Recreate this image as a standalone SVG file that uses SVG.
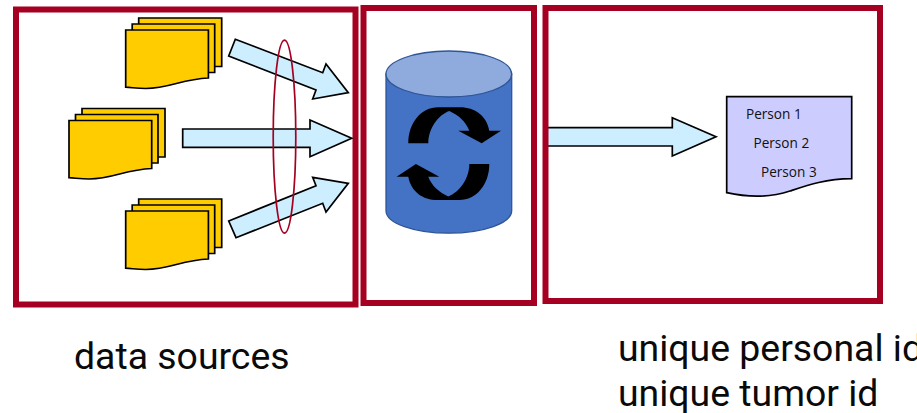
<svg xmlns="http://www.w3.org/2000/svg" xmlns:xlink="http://www.w3.org/1999/xlink" width="917" height="413" viewBox="0 0 917 413">
<style>
.box{fill:none;stroke:#a50021;stroke-width:6}
.doc{fill:#ffcc00;stroke:#000;stroke-width:1.700;stroke-linejoin:miter}
.arrow{fill:#cceeff;stroke:#000;stroke-width:1.700;stroke-linejoin:miter}
.big{font-family:Roboto,"Liberation Sans",sans-serif;font-size:37.400px;fill:#0a0a0a}
.small{font-family:"Open Sans","Liberation Sans",sans-serif;font-size:13.600px;fill:#111}
</style>
<defs>
<g id="stack">
<path class="doc" d="M13,-12H96V36.500H13Z"/>
<path class="doc" d="M6.500,-6H89V42.500H6.500Z"/>
<path class="doc" d="M0,0H82.700V48C56,49 44,58.500 20,58.500C12,58.500 6,57.500 0,57.200Z"/>
</g>
</defs>
<rect width="917" height="413" fill="#fff"/>
<g id="sources">
<rect class="box" x="16" y="9.500" width="339.500" height="295"/>
<use id="stack-top" xlink:href="#stack" href="#stack" x="125.700" y="30"/>
<use id="stack-middle" xlink:href="#stack" href="#stack" x="69" y="120.500"/>
<use id="stack-bottom" xlink:href="#stack" href="#stack" x="125.700" y="211"/>
</g>
<g id="connectors">
<polygon class="arrow" points="235.300,39.300 322.700,72.700 326,64 348.300,92.700 312.700,99 316,90 228.700,56"/>
<polygon class="arrow" points="182.700,129 310,129 310,120 351.700,138.300 310,156.700 310,147.300 182.700,147.300"/>
<polygon class="arrow" points="228.700,221 316,185.700 312.700,177.300 348.300,183.300 326,212 322.700,203.300 236,237.700"/>
<polygon class="arrow" points="547,127.700 672.300,127.700 672.300,117.700 716,136.700 672.300,156 672.300,146 547,146"/>
</g>
<g id="ring">
<ellipse cx="284.500" cy="136.700" rx="11.300" ry="96.500" fill="none" stroke="#a50021" stroke-width="1.700"/>
</g>
<g id="database">
<rect class="box" x="363.500" y="8" width="170.500" height="295"/>
<path d="M386,74V210.700A62.800,22.500 0 0 0 511.700,210.700V74Z" fill="#4472c4" stroke="#2f5597" stroke-width="1.300"/>
<ellipse cx="448.800" cy="74" rx="62.800" ry="23" fill="#8faadc" stroke="#2f5597" stroke-width="1.300"/>
<path id="sync-top" d="M408.300,143.300C408.300,123 421,107.300 438.300,107.300L460,107.300C475,107.300 486.700,116 489.300,130.700L501,130.700L481.700,143.300L458.300,130.700L469.300,130.700C466,121.700 458.300,115 449.300,111C438.300,115 428.300,128.300 428.300,143.300Z"/>
<path id="sync-bottom" transform="rotate(180 448.800 153.700)" d="M408.300,143.300C408.300,123 421,107.300 438.300,107.300L460,107.300C475,107.300 486.700,116 489.300,130.700L501,130.700L481.700,143.300L458.300,130.700L469.300,130.700C466,121.700 458.300,115 449.300,111C438.300,115 428.300,128.300 428.300,143.300Z"/>
</g>
<g id="output">
<rect class="box" x="545.500" y="8" width="334.500" height="293"/>
<path d="M726.700,96.700H851.700V178.700C825,179 808,185 790,191C775,196 755,199 726.700,192.700Z" fill="#ccccff" stroke="#000" stroke-width="1.700"/>
<text class="small" x="746" y="118.500">Person 1</text>
<text class="small" x="753.500" y="147.500">Person 2</text>
<text class="small" x="761" y="176.500">Person 3</text>
</g>
<g id="labels">
<text class="big" x="74" y="368.500">data sources</text>
<text class="big" x="618" y="361">unique personal id</text>
<text class="big" x="618" y="406">unique tumor id</text>
</g>
</svg>
